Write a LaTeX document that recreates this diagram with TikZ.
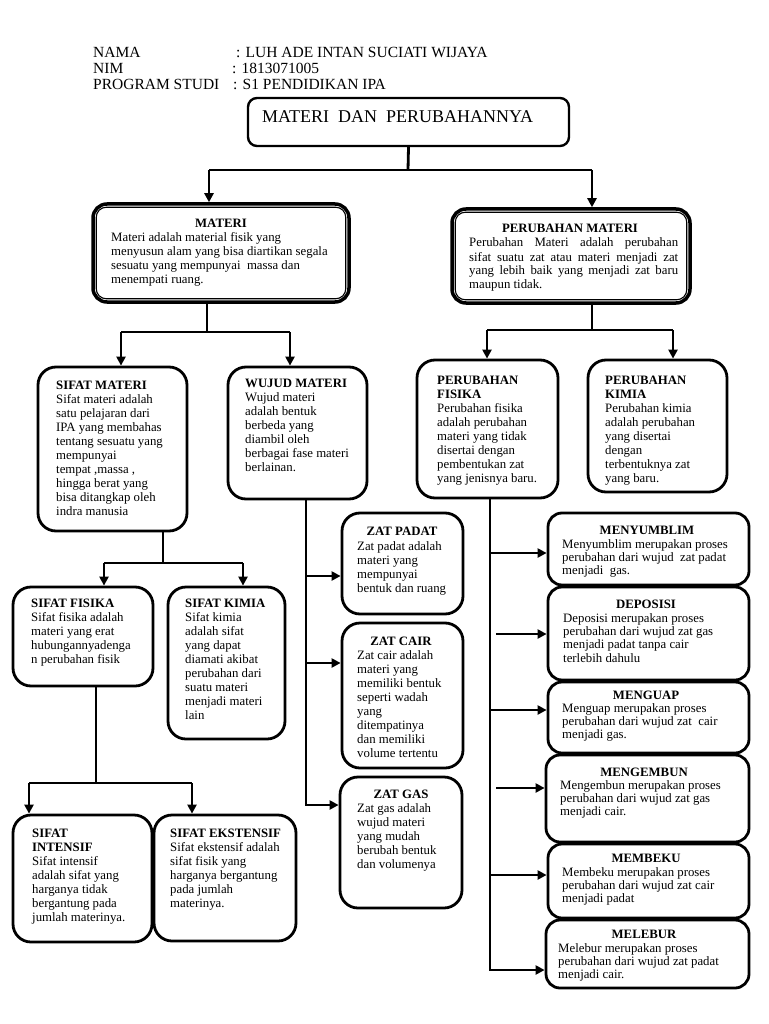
\documentclass[tikz,border=0pt]{standalone}
\usepackage{fontspec}
\setmainfont{Liberation Serif}
\usetikzlibrary{arrows.meta,fit}
\newcommand\bodyfont{\fontsize{12.8}{14}\selectfont}
\newcommand\rbodyfont{\fontsize{12.8}{13.4}\selectfont}
\newcommand\tlines[1]{\begin{tabular}[t]{@{}l@{}}#1\end{tabular}}
\begin{document}
\begin{tikzpicture}[x=1pt,y=-1pt,
  bx/.style={draw, line width=2.8pt, rounded corners=18pt, inner sep=0pt},
  rbx/.style={draw, line width=2.8pt, rounded corners=14pt, inner sep=0pt},
  txt/.style={anchor=base west, inner sep=0pt, font=\bodyfont},
  rtxt/.style={anchor=base west, inner sep=0pt, font=\rbodyfont},
  ttl/.style={anchor=base, inner sep=0pt, font=\bodyfont\bfseries},
  hd/.style={anchor=base west, inner sep=0pt, font=\fontsize{15.5}{17}\selectfont},
  ln/.style={line width=2.8pt},
  arr/.style={line width=2.8pt, -{Triangle[length=9pt,width=9pt]}}]
\fill[white] (0,0) rectangle (768,1024);
\useasboundingbox (0,0) rectangle (768,1024);

% header
\node[hd] (nama) at (93,58) {NAMA};
\node[hd] (namav) at (236,58) {: LUH ADE INTAN SUCIATI WIJAYA};
\node[hd] (nim) at (93,74) {NIM};
\node[hd] (nimv) at (232,74) {: 1813071005};
\node[hd] (prodi) at (93,90) {PROGRAM STUDI};
\node[hd] (prodiv) at (233,90) {: S1 PENDIDIKAN IPA};

% title
\node[bx, rounded corners=9pt, line width=2.4pt, fit={(248,98)(569,146)}] (title) {};
\node[anchor=base west, inner sep=0pt, font=\fontsize{18}{20}\selectfont] (titletext) at (262,123) {MATERI\ \ DAN\ \ PERUBAHANNYA};

% level 2
\node[bx, line width=3.5pt, rounded corners=14pt, fit={(93,204)(349,302)}] (materi) {};
\draw[line width=1.1pt, rounded corners=10pt] ([shift={(5,5)}]materi.north west) rectangle ([shift={(-5,-5)}]materi.south east);
\node[ttl] (materit) at (221,227) {MATERI};
\node[txt] (materib) at (111,241) {\tlines{Materi adalah material fisik yang\\menyusun alam yang bisa diartikan segala\\sesuatu yang mempunyai\ \ massa dan\\menempati ruang.}};

\node[bx, line width=3.5pt, rounded corners=14pt, fit={(452,209)(690,303)}] (perub) {};
\draw[line width=1.1pt, rounded corners=10pt] ([shift={(5,5)}]perub.north west) rectangle ([shift={(-5,-5)}]perub.south east);
\node[ttl] (perubt) at (570,233) {PERUBAHAN MATERI};
\node[txt] (perubb) at (469,247) {\tlines{\makebox[209pt][s]{Perubahan Materi adalah perubahan}\\\makebox[209pt][s]{sifat suatu zat atau materi menjadi zat}\\\makebox[209pt][s]{yang lebih baik yang menjadi zat baru}\\maupun tidak.}};

% level 3
\node[bx, fit={(38,367)(187,531)}] (smateri) {};
\node[txt] (smaterib) at (56,389) {\tlines{\textbf{SIFAT MATERI}\\Sifat materi adalah\\satu pelajaran dari\\IPA yang membahas\\tentang sesuatu yang\\mempunyai\\tempat ,massa ,\\hingga berat yang\\bisa ditangkap oleh\\indra manusia}};

\node[bx, fit={(228,367)(367,499)}] (wujud) {};
\node[txt] (wujudb) at (245,387) {\tlines{\textbf{WUJUD MATERI}\\Wujud materi\\adalah bentuk\\berbeda yang\\diambil oleh\\berbagai fase materi\\berlainan.}};

\node[bx, fit={(417,360)(558,498)}] (pfis) {};
\node[txt] (pfisb) at (437,384) {\tlines{\textbf{PERUBAHAN}\\\textbf{FISIKA}\\Perubahan fisika\\adalah perubahan\\materi yang tidak\\disertai dengan\\pembentukan zat\\yang jenisnya baru.}};

\node[bx, fit={(588,360)(727,492)}] (pkim) {};
\node[txt] (pkimb) at (605,384) {\tlines{\textbf{PERUBAHAN}\\\textbf{KIMIA}\\Perubahan kimia\\adalah perubahan\\yang disertai\\dengan\\terbentuknya zat\\yang baru.}};

% level 4 left
\node[bx, fit={(13,587)(153,686)}] (sfis) {};
\node[txt] (sfisb) at (31,607) {\tlines{\textbf{SIFAT FISIKA}\\Sifat fisika adalah\\materi yang erat\\hubungannyadenga\\n perubahan fisik}};

\node[bx, fit={(168,587)(285,739)}] (skim) {};
\node[txt] (skimb) at (185,607) {\tlines{\textbf{SIFAT KIMIA}\\Sifat kimia\\adalah sifat\\yang dapat\\diamati akibat\\perubahan dari\\suatu materi\\menjadi materi\\lain}};

\node[bx, fit={(13,815)(152,942)}] (sint) {};
\node[txt] (sintb) at (32,837) {\tlines{\textbf{SIFAT}\\\textbf{INTENSIF}\\Sifat intensif\\adalah sifat yang\\harganya tidak\\bergantung pada\\jumlah materinya.}};

\node[bx, fit={(154,815)(296,941)}] (seks) {};
\node[txt] (seksb) at (170,837) {\tlines{\textbf{SIFAT EKSTENSIF}\\Sifat ekstensif adalah\\sifat fisik yang\\harganya bergantung\\pada jumlah\\materinya.}};

% zat
\node[bx, fit={(342,513)(463,614)}] (zpadat) {};
\node[ttl] (zpadatt) at (402,535) {ZAT PADAT};
\node[txt] (zpadatb) at (357,550) {\tlines{Zat padat adalah\\materi yang\\mempunyai\\bentuk dan ruang}};

\node[bx, fit={(342,623)(463,768)}] (zcair) {};
\node[ttl] (zcairt) at (401,645) {ZAT CAIR};
\node[txt] (zcairb) at (357,659) {\tlines{Zat cair adalah\\materi yang\\memiliki bentuk\\seperti wadah\\yang\\ditempatinya\\dan memiliki\\volume tertentu}};

\node[bx, fit={(340,777)(462,908)}] (zgas) {};
\node[ttl] (zgast) at (401,798) {ZAT GAS};
\node[txt] (zgasb) at (357,812) {\tlines{Zat gas adalah\\wujud materi\\yang mudah\\berubah bentuk\\dan volumenya}};

% right column
\node[rbx, fit={(548,513)(749,585)}] (menyumblim) {};
\node[ttl] (menyumblimt) at (647,534) {MENYUMBLIM};
\node[rtxt] (menyumblimb) at (562,548) {\tlines{Menyumblim merupakan proses\\perubahan dari wujud\ \ zat padat\\menjadi\ \ gas.}};

\node[rbx, fit={(548,587)(749,680)}] (deposisi) {};
\node[ttl] (deposisit) at (646,608) {DEPOSISI};
\node[rtxt] (deposisib) at (563,622) {\tlines{Deposisi merupakan proses\\perubahan dari wujud zat gas\\menjadi padat tanpa cair\\terlebih dahulu}};

\node[rbx, fit={(548,682)(749,753)}] (menguap) {};
\node[ttl] (menguapt) at (646,699) {MENGUAP};
\node[rtxt] (menguapb) at (562,712) {\tlines{Menguap merupakan proses\\perubahan dari wujud zat\ \ cair\\menjadi gas.}};

\node[rbx, fit={(546,755)(749,842)}] (mengembun) {};
\node[ttl] (mengembunt) at (644,776) {MENGEMBUN};
\node[rtxt] (mengembunb) at (560,789) {\tlines{Mengembun merupakan proses\\perubahan dari wujud zat gas\\menjadi cair.}};

\node[rbx, fit={(548,844)(749,918)}] (membeku) {};
\node[ttl] (membekut) at (646,862) {MEMBEKU};
\node[rtxt] (membekub) at (562,876) {\tlines{Membeku merupakan proses\\perubahan dari wujud zat cair\\menjadi padat}};

\node[rbx, fit={(546,920)(749,988)}] (melebur) {};
\node[ttl] (melebirt) at (644,938) {MELEBUR};
\node[rtxt] (meleburb) at (558,952) {\tlines{Melebur merupakan proses\\perubahan dari wujud zat padat\\menjadi cair.}};

% connectors
\coordinate (h1) at (408,170);
\coordinate (h1a) at (209,170);
\coordinate (h1b) at (592,170);
\draw[ln] (title.south) -- (h1);
\draw[ln] (h1a) -- (h1b);
\draw[arr] (h1a) -- (h1a |- materi.north);
\draw[arr] (h1b) -- (h1b |- perub.north);

\coordinate (h2) at (207,332);
\coordinate (h2a) at (121,332);
\coordinate (h2b) at (290,332);
\draw[ln] (h2 |- materi.south) -- (h2);
\draw[ln] (h2a) -- (h2b);
\draw[arr] (h2a) -- (h2a |- smateri.north);
\draw[arr] (h2b) -- (h2b |- wujud.north);

\coordinate (h3) at (592,330);
\coordinate (h3a) at (487,330);
\coordinate (h3b) at (673,330);
\draw[ln] (h3 |- perub.south) -- (h3);
\draw[ln] (h3a) -- (h3b);
\draw[arr] (h3a) -- (h3a |- pfis.north);
\draw[arr] (h3b) -- (h3b |- pkim.north);

\coordinate (h4) at (163,563);
\coordinate (h4a) at (104,563);
\coordinate (h4b) at (243,563);
\draw[ln] (h4 |- smateri.south) -- (h4);
\draw[ln] (h4a) -- (h4b);
\draw[arr] (h4a) -- (h4a |- sfis.north);
\draw[arr] (h4b) -- (h4b |- skim.north);

\coordinate (h5) at (96,783);
\coordinate (h5a) at (29,783);
\coordinate (h5b) at (192,783);
\draw[ln] (h5 |- sfis.south) -- (h5);
\draw[ln] (h5a) -- (h5b);
\draw[arr] (h5a) -- (h5a |- sint.north);
\draw[arr] (h5b) -- (h5b |- seks.north);

\coordinate (w1) at (306,576);
\coordinate (w2) at (306,663);
\coordinate (w3) at (306,805);
\draw[arr] (w3 |- wujud.south) -- (w3) -- (w3 -| zgas.west);
\draw[arr] (w1) -- (w1 -| zpadat.west);
\draw[arr] (w2) -- (w2 -| zcair.west);

\coordinate (r1) at (490,553);
\coordinate (r2) at (496,634);
\coordinate (r3) at (490,710);
\coordinate (r4) at (496,788);
\coordinate (r5) at (490,875);
\coordinate (r6) at (490,970);
\draw[arr] (r6 |- pfis.south) -- (r6) -- (r6 -| melebur.west);
\draw[arr] (r1) -- (r1 -| menyumblim.west);
\draw[arr] (r2) -- (r2 -| deposisi.west);
\draw[arr] (r3) -- (r3 -| menguap.west);
\draw[arr] (r4) -- (r4 -| mengembun.west);
\draw[arr] (r5) -- (r5 -| membeku.west);
\end{tikzpicture}
\end{document}
